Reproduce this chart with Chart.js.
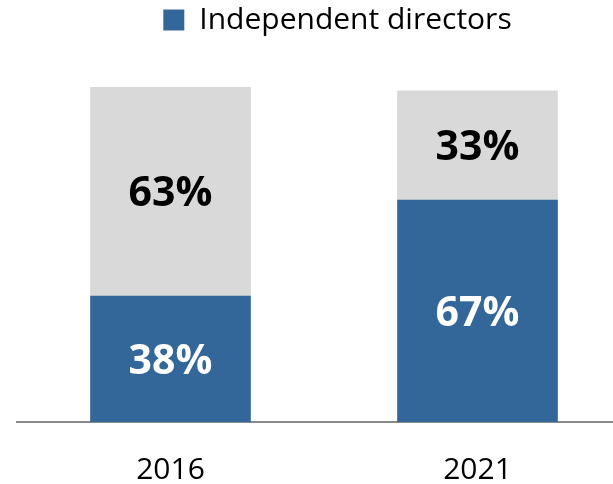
<!DOCTYPE html>
<html>
<head>
<meta charset="utf-8">
<script src="https://cdn.jsdelivr.net/npm/chart.js@4.4.1/dist/chart.umd.min.js"></script>
<style>
html,body{margin:0;padding:0;background:#fff;overflow:hidden;width:613px;height:484px;}
#wrap{position:absolute;left:0;top:0;width:675px;height:484px;}
</style>
</head>
<body>
<div id="wrap"><canvas id="c" width="675" height="484"></canvas></div>
<script>
const categories = ['2016', '2021'];
const independentValues = [38, 67];
const otherValues = [63, 33];
const seriesNames = ['Independent directors', 'Other directors'];

const labelPlugin = {
  id: 'segLabels',
  afterDatasetsDraw(chart) {
    const ctx = chart.ctx;
    ctx.save();
    ctx.font = 'bold 41px "Open Sans"';
    ctx.textAlign = 'center';
    ctx.textBaseline = 'middle';
    chart.data.datasets.forEach((ds, i) => {
      const meta = chart.getDatasetMeta(i);
      meta.data.forEach((el, j) => {
        ctx.fillStyle = ds.labelColor;
        ctx.fillText(ds.data[j] + '%', el.x, (el.y + el.base) / 2 + 3);
      });
    });
    ctx.restore();
  }
};

new Chart(document.getElementById('c'), {
  type: 'bar',
  data: {
    labels: categories,
    datasets: [
      { label: seriesNames[0], data: independentValues, backgroundColor: '#336699', labelColor: '#ffffff', barThickness: 160 },
      { label: seriesNames[1], data: otherValues, backgroundColor: '#d9d9d9', labelColor: '#000000', barThickness: 160 }
    ]
  },
  options: {
    responsive: false,
    animation: false,
    layout: { padding: 0 },
    plugins: {
      tooltip: { enabled: false },
      legend: {
        position: 'top',
        labels: {
          filter: (item) => item.datasetIndex === 0,
          font: { family: '"Open Sans"', size: 30 },
          color: '#000',
          boxWidth: 21,
          boxHeight: 21,
          padding: 5
        }
      }
    },
    scales: {
      x: {
        stacked: true,
        grid: { display: false },
        border: { display: true, color: '#898989', width: 2 },
        ticks: { font: { family: '"Open Sans"', size: 30 }, color: '#000', padding: 22 },
        afterFit: (s) => { s.height = 62; }
      },
      y: {
        stacked: true,
        min: 0,
        max: 113.8,
        grid: { display: false },
        border: { display: false },
        ticks: { display: false },
        afterFit: (s) => { s.width = 17; }
      },
      y2: {
        position: 'right',
        min: 0,
        max: 113.8,
        grid: { display: false },
        border: { display: false },
        ticks: { display: false },
        afterFit: (s) => { s.width = 44; }
      }
    }
  },
  plugins: [labelPlugin]
});
</script>
</body>
</html>
